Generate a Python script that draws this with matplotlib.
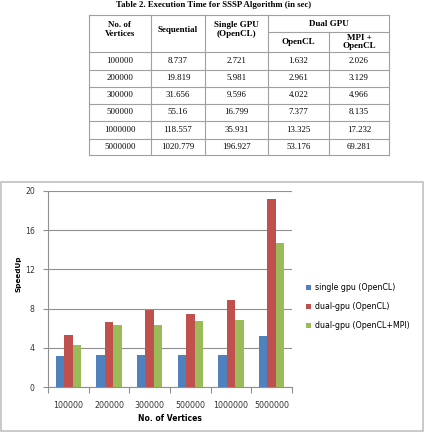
"""
Table of SSSP execution times plus speedup bar chart
"""

import matplotlib
matplotlib.use("Agg")
import matplotlib.pyplot as plt
from matplotlib.patches import Rectangle
import numpy as np

# table data
col_headers = ["No. of\nVertices", "Sequential", "Single GPU\n(OpenCL)", "OpenCL", "MPI +\nOpenCL"]
vertices = ["100000", "200000", "300000", "500000", "1000000", "5000000"]
sequential = ["8.737", "19.819", "31.656", "55.16", "118.557", "1020.779"]
single_gpu = ["2.721", "5.981", "9.596", "16.799", "35.931", "196.927"]
dual_opencl = ["1.632", "2.961", "4.022", "7.377", "13.325", "53.176"]
dual_mpi = ["2.026", "3.129", "4.966", "8.135", "17.232", "69.281"]

# speedup values
speed_single = [3.21, 3.31, 3.30, 3.28, 3.30, 5.18]
speed_dual = [5.35, 6.69, 7.87, 7.48, 8.90, 19.20]
speed_dual_mpi = [4.31, 6.33, 6.37, 6.78, 6.88, 14.73]
series_names = ["single gpu (OpenCL)", "dual-gpu (OpenCL)", "dual-gpu (OpenCL+MPI)"]
series_colors = ["#4F81BD", "#C0504D", "#9BBB59"]

W, H = 428, 432
fig = plt.figure(figsize=(W / 100, H / 100), dpi=100)

# overlay canvas in pixel units for the table and the chart frame
canvas = fig.add_axes([0, 0, 1, 1])
canvas.set_xlim(0, W)
canvas.set_ylim(H, 0)
canvas.axis("off")

serif = "Liberation Serif"
line_kw = dict(color="#a0a0a0", linewidth=0.8)

canvas.text(214, 5, "Table 2. Execution Time for SSSP Algorithm (in sec)",
            ha="center", va="center", fontsize=6.3, fontweight="bold", family=serif)

col_x = [89, 151, 205, 268, 329, 389]
row_y = [15, 52, 69.5, 86.5, 104, 121, 138.5, 155]
top, sub = 15, 32

# grid lines
for y in row_y:
    canvas.plot([col_x[0], col_x[-1]], [y, y], **line_kw)
canvas.plot([col_x[3], col_x[-1]], [sub, sub], **line_kw)
for i, x in enumerate(col_x):
    y0 = sub if i == 4 else top
    canvas.plot([x, x], [y0, row_y[-1]], **line_kw)

# header
hdr_kw = dict(ha="center", va="center", fontsize=6.5, fontweight="bold",
              family=serif, linespacing=1.15)
for i in range(3):
    canvas.text((col_x[i] + col_x[i + 1]) / 2, 29.5, col_headers[i], **hdr_kw)
canvas.text((col_x[3] + col_x[5]) / 2, (top + sub) / 2 + 0.5, "Dual GPU", **hdr_kw)
canvas.text((col_x[3] + col_x[4]) / 2, (sub + row_y[1]) / 2, col_headers[3], **hdr_kw)
canvas.text((col_x[4] + col_x[5]) / 2, (sub + row_y[1]) / 2, col_headers[4], **hdr_kw)

# body
columns = [vertices, sequential, single_gpu, dual_opencl, dual_mpi]
for r in range(len(vertices)):
    yc = (row_y[r + 1] + row_y[r + 2]) / 2
    for c, col in enumerate(columns):
        canvas.text((col_x[c] + col_x[c + 1]) / 2, yc, col[r],
                    ha="center", va="center", fontsize=6.3, family=serif)

# chart frame
canvas.add_patch(Rectangle((1.5, 181.5), 422, 249, fill=False,
                           edgecolor="#c0c0c0", linewidth=1.2))

# bar chart
ax = fig.add_axes([48 / W, (H - 387.3) / H, 244 / W, (387.3 - 190.7) / H])
x = np.arange(len(vertices))
bw = 0.21
for k, (vals, name, col) in enumerate(zip([speed_single, speed_dual, speed_dual_mpi],
                                          series_names, series_colors)):
    ax.bar(x + (k - 1) * bw, vals, bw, color=col, label=name, zorder=3)

ax.set_xlim(-0.5, len(vertices) - 0.5)
ax.set_ylim(0, 20)
ax.set_yticks([0, 4, 8, 12, 16, 20])
ax.grid(True, axis="y", color="#909090", linewidth=0.8, zorder=0)
for s in ["top", "right"]:
    ax.spines[s].set_visible(False)
for s in ["left", "bottom"]:
    ax.spines[s].set_color("#909090")
    ax.spines[s].set_linewidth(0.8)

ax.set_xticks(x)
ax.set_xticklabels(vertices)
ax.set_xticks(np.arange(-0.5, len(vertices)), minor=True)
ax.tick_params(axis="x", which="major", length=0, pad=10, labelsize=5.7, colors="#333333")
ax.tick_params(axis="x", which="minor", length=4, color="#909090", width=0.8)
ax.tick_params(axis="y", length=3.5, color="#909090", width=0.8, labelsize=5.6,
               labelcolor="#333333", pad=6)

ax.set_ylabel("SpeedUp", fontsize=5.2, fontweight="bold")
ax.yaxis.set_label_coords(-0.11, 0.58)
ax.set_xlabel("No. of Vertices", fontsize=5.5, fontweight="bold", labelpad=3)

ax.legend(loc="center left", bbox_to_anchor=(1.03, 0.41), frameon=False,
          fontsize=5.7, handlelength=0.6, handleheight=0.6, handletextpad=0.5,
          labelspacing=1.25)

fig.savefig("out.png", dpi=100)
